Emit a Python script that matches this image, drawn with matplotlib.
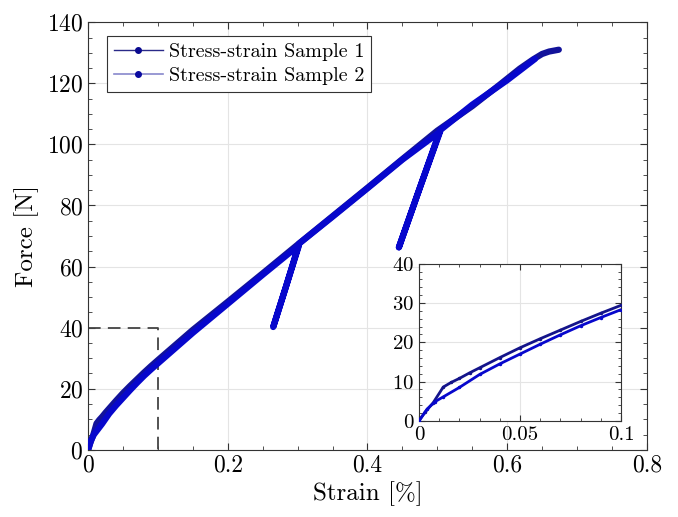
import numpy as np
import matplotlib
matplotlib.use('Agg')
import matplotlib.pyplot as plt
from matplotlib.lines import Line2D
from matplotlib.ticker import MultipleLocator

# ------------------------------------------------------------
# 数据
# ------------------------------------------------------------
# Sample 1: 单调加载
s1_strain = [0, 0.003, 0.007, 0.012, 0.016, 0.02, 0.025, 0.03, 0.04, 0.05,
             0.06, 0.07, 0.08, 0.09, 0.1, 0.15, 0.2, 0.25, 0.3, 0.35,
             0.4, 0.45, 0.5, 0.55, 0.589, 0.618, 0.637, 0.65, 0.66, 0.674]
s1_force = [0, 2.2, 4.6, 8.6, 9.8, 10.8, 12.2, 13.5, 16.1, 18.6,
            20.9, 23.1, 25.3, 27.4, 29.4, 39.3, 48.5, 57.8, 67.2, 76.5,
            85.8, 95.2, 104.5, 112.5, 119.5, 124.8, 127.8, 129.6, 130.4, 131.0]

# Sample 2: 带两次卸载/再加载
s2_strain = [0, 0.004, 0.008, 0.012, 0.02, 0.03, 0.04, 0.05, 0.06, 0.07,
             0.08, 0.09, 0.1, 0.15, 0.2, 0.25, 0.302, 0.282, 0.265, 0.283,
             0.302, 0.35, 0.4, 0.45, 0.503, 0.475, 0.445, 0.475, 0.505, 0.55,
             0.6, 0.64]
s2_force = [0, 3.0, 4.9, 6.1, 8.5, 11.8, 14.5, 17.0, 19.5, 21.9,
            24.2, 26.3, 28.3, 38.3, 47.8, 57.3, 67.0, 52.5, 40.2, 53.2,
            67.5, 76.3, 85.6, 95.0, 104.0, 85.8, 66.3, 85.8, 104.8, 113.0,
            121.0, 128.0]

labels = ['Stress-strain Sample 1', 'Stress-strain Sample 2']
c1 = '#12129a'
c2 = '#0707cc'

plt.rcParams['font.family'] = ['cmr10', 'DejaVu Serif']
plt.rcParams['mathtext.fontset'] = 'cm'
plt.rcParams['axes.formatter.use_mathtext'] = True
plt.rcParams['font.size'] = 17

fig = plt.figure(figsize=(6.78, 5.17), dpi=100)
ax = fig.add_axes([0.130, 0.130, 0.824, 0.827])

ax.plot(s1_strain, s1_force, color=c1, lw=4.5, solid_capstyle='round', zorder=3)
ax.plot(s2_strain, s2_force, color=c2, lw=4.5, solid_capstyle='round', zorder=4)

# 放大区域的虚线框
ax.plot([0, 0.1, 0.1], [40, 40, 0], color='#444444', lw=1.3,
        ls=(0, (7, 4)), zorder=2)

ax.set_xlim(0, 0.8)
ax.set_ylim(0, 140)
ax.xaxis.set_major_locator(MultipleLocator(0.2))
ax.xaxis.set_minor_locator(MultipleLocator(0.05))
ax.yaxis.set_major_locator(MultipleLocator(20))
ax.yaxis.set_minor_locator(MultipleLocator(5))
ax.xaxis.set_major_formatter(plt.FuncFormatter(lambda v, p: f'{v:g}'))
ax.tick_params(which='both', direction='in', top=True, right=True,
               color='#333333', labelsize=17)
ax.tick_params(which='major', length=5)
ax.tick_params(which='minor', length=3)
ax.grid(True, color='#e4e4e4', lw=0.8, zorder=0)
for sp in ax.spines.values():
    sp.set_color('#333333')
ax.set_xlabel('Strain [%]', fontsize=18, labelpad=3)
ax.set_ylabel('Force [N]', fontsize=18, labelpad=6)

handles = [Line2D([0], [0], color='#2a2a88', lw=1, marker='.', markersize=8,
                  markerfacecolor='#0a0a90', markeredgecolor='#0a0a90'),
           Line2D([0], [0], color='#8888cc', lw=1.2, marker='.', markersize=8,
                  markerfacecolor='#0a0aa0', markeredgecolor='#0a0aa0')]
leg = ax.legend(handles, labels, loc='upper left', fontsize=14.5,
                fancybox=False, framealpha=1, edgecolor='#333333',
                handlelength=2.4, borderpad=0.35, labelspacing=0.25,
                handletextpad=0.3, borderaxespad=0,
                bbox_to_anchor=(0.034, 0.967))
leg.get_frame().set_linewidth(0.8)

# ------------------------------------------------------------
# 小图 (放大 0~0.1)
# ------------------------------------------------------------
ins = fig.add_axes([0.618, 0.186, 0.298, 0.304])
ins.plot(s1_strain, s1_force, color='#14148a', lw=2, marker='.', markersize=3, zorder=3)
ins.plot(s2_strain, s2_force, color=c2, lw=2, marker='.', markersize=3, zorder=4)
ins.set_xlim(0, 0.1)
ins.set_ylim(0, 40)
ins.xaxis.set_major_locator(MultipleLocator(0.05))
ins.xaxis.set_minor_locator(MultipleLocator(0.01))
ins.yaxis.set_major_locator(MultipleLocator(10))
ins.yaxis.set_minor_locator(MultipleLocator(2))
ins.xaxis.set_major_formatter(plt.FuncFormatter(lambda v, p: f'{v:g}'))
ins.tick_params(which='both', direction='in', top=True, right=True,
                color='#333333', labelsize=15)
ins.tick_params(which='major', length=4)
ins.tick_params(which='minor', length=2)
ins.grid(True, color='#e4e4e4', lw=0.8, zorder=0)
for sp in ins.spines.values():
    sp.set_color('#333333')

fig.savefig('out.png', dpi=100)
